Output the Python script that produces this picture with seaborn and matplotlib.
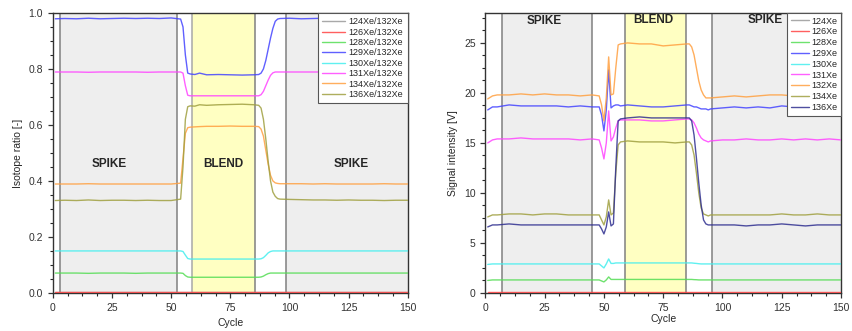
import numpy as np
import pandas as pd
import matplotlib
matplotlib.use("Agg")
import matplotlib.pyplot as plt
from matplotlib.ticker import MultipleLocator, AutoMinorLocator
import seaborn as sns

# ---------------- data: isotope ratios (left panel) ----------------
cycle_ratio = [1, 5, 10, 15, 20, 25, 30, 35, 40, 45, 50,
               54, 55, 56, 57, 58,
               60, 62, 65, 70, 75, 80, 85,
               87, 88, 89, 90, 91, 92, 93, 94, 95, 96,
               100, 105, 110, 115, 120, 125, 130, 135, 140, 145, 150]

r124 = [0.002] * 44
r126 = [0.004] * 44
r128 = [0.071, 0.071, 0.071, 0.070, 0.071, 0.071, 0.071, 0.070, 0.071, 0.071, 0.071,
        0.071, 0.070, 0.062, 0.057, 0.056,
        0.056, 0.056, 0.056, 0.056, 0.056, 0.056, 0.056,
        0.056, 0.057, 0.060, 0.065, 0.069, 0.071, 0.071, 0.071, 0.071, 0.071,
        0.071, 0.071, 0.071, 0.071, 0.071, 0.071, 0.071, 0.071, 0.071, 0.071, 0.071]
r129 = [0.979, 0.980, 0.979, 0.981, 0.979, 0.980, 0.981, 0.980, 0.981, 0.980, 0.982,
        0.978, 0.950, 0.850, 0.785, 0.782,
        0.780, 0.785, 0.779, 0.780, 0.779, 0.778, 0.779,
        0.780, 0.785, 0.800, 0.830, 0.870, 0.910, 0.945, 0.970, 0.978, 0.980,
        0.981, 0.979, 0.980, 0.981, 0.980, 0.979, 0.980, 0.981, 0.980, 0.979, 0.980]
r130 = [0.150, 0.150, 0.150, 0.150, 0.150, 0.150, 0.150, 0.150, 0.150, 0.150, 0.150,
        0.150, 0.148, 0.135, 0.123, 0.121,
        0.121, 0.121, 0.121, 0.121, 0.121, 0.121, 0.121,
        0.121, 0.122, 0.126, 0.134, 0.143, 0.148, 0.150, 0.150, 0.150, 0.150,
        0.150, 0.150, 0.150, 0.150, 0.150, 0.150, 0.150, 0.150, 0.150, 0.150, 0.150]
r131 = [0.789, 0.789, 0.789, 0.788, 0.789, 0.789, 0.789, 0.789, 0.788, 0.789, 0.789,
        0.789, 0.785, 0.740, 0.706, 0.704,
        0.704, 0.704, 0.704, 0.704, 0.704, 0.704, 0.704,
        0.704, 0.708, 0.720, 0.740, 0.760, 0.777, 0.786, 0.789, 0.789, 0.789,
        0.789, 0.789, 0.789, 0.789, 0.789, 0.789, 0.789, 0.789, 0.789, 0.789, 0.789]
r134 = [0.389, 0.389, 0.389, 0.390, 0.389, 0.389, 0.389, 0.389, 0.389, 0.389, 0.389,
        0.392, 0.480, 0.570, 0.590, 0.592,
        0.593, 0.594, 0.595, 0.595, 0.596, 0.595, 0.595,
        0.594, 0.585, 0.560, 0.510, 0.460, 0.420, 0.400, 0.393, 0.391, 0.390,
        0.390, 0.390, 0.389, 0.390, 0.389, 0.389, 0.389, 0.389, 0.390, 0.389, 0.389]
r136 = [0.330, 0.331, 0.330, 0.332, 0.330, 0.331, 0.331, 0.330, 0.331, 0.330, 0.330,
        0.335, 0.450, 0.620, 0.665, 0.668,
        0.667, 0.672, 0.670, 0.672, 0.673, 0.674, 0.672,
        0.670, 0.660, 0.620, 0.550, 0.470, 0.400, 0.360, 0.345, 0.337, 0.335,
        0.334, 0.333, 0.332, 0.332, 0.331, 0.332, 0.331, 0.331, 0.330, 0.331, 0.331]

# ---------------- data: signal intensities (right panel) ----------------
cycle_signal = [1, 3, 5, 10, 15, 20, 25, 30, 35, 40, 45,
                48, 49, 50, 51, 52, 53, 54, 55, 56, 57,
                60, 65, 70, 75, 80, 85,
                86, 87, 88, 89, 90, 91, 92, 93, 94, 95,
                100, 105, 110, 115, 120, 125, 130, 135, 140, 145, 150]

s124 = [0.03] * 48
s126 = [0.05] * 48
s128 = [1.25, 1.30, 1.30, 1.30, 1.30, 1.30, 1.30, 1.30, 1.30, 1.30, 1.30,
        1.30, 1.20, 1.10, 1.30, 1.60, 1.35, 1.35, 1.35, 1.35, 1.35,
        1.35, 1.35, 1.35, 1.35, 1.35, 1.35,
        1.35, 1.35, 1.33, 1.32, 1.30, 1.30, 1.30, 1.30, 1.30, 1.30,
        1.30, 1.30, 1.30, 1.30, 1.30, 1.30, 1.30, 1.30, 1.30, 1.30, 1.30]
s129 = [18.3, 18.6, 18.6, 18.8, 18.7, 18.7, 18.7, 18.7, 18.6, 18.7, 18.6,
        18.6, 17.8, 16.2, 18.3, 22.3, 18.5, 18.7, 18.8, 18.8, 18.7,
        18.8, 18.7, 18.6, 18.6, 18.7, 18.8,
        18.8, 18.7, 18.6, 18.6, 18.5, 18.4, 18.4, 18.4, 18.3, 18.4,
        18.5, 18.6, 18.5, 18.6, 18.5, 18.7, 18.6, 18.6, 18.6, 18.6, 18.6]
s130 = [2.85, 2.90, 2.90, 2.90, 2.90, 2.90, 2.90, 2.90, 2.90, 2.90, 2.90,
        2.90, 2.70, 2.50, 2.90, 3.40, 2.95, 2.95, 3.00, 3.00, 3.00,
        3.00, 3.00, 3.00, 3.00, 3.00, 3.00,
        3.00, 3.00, 2.97, 2.95, 2.92, 2.90, 2.90, 2.90, 2.90, 2.90,
        2.90, 2.90, 2.90, 2.90, 2.90, 2.90, 2.90, 2.90, 2.90, 2.90, 2.90]
s131 = [15.0, 15.3, 15.4, 15.4, 15.5, 15.4, 15.4, 15.4, 15.4, 15.3, 15.4,
        15.3, 14.5, 13.4, 15.0, 18.2, 15.2, 15.6, 16.5, 17.2, 17.3,
        17.3, 17.3, 17.2, 17.2, 17.3, 17.4,
        17.4, 17.3, 17.0, 16.5, 15.9, 15.5, 15.3, 15.2, 15.1, 15.2,
        15.3, 15.3, 15.4, 15.3, 15.3, 15.4, 15.3, 15.4, 15.3, 15.4, 15.3]
s132 = [19.4, 19.7, 19.8, 19.8, 19.9, 19.8, 19.9, 19.8, 19.8, 19.7, 19.8,
        19.7, 18.8, 17.2, 19.5, 23.6, 19.8, 19.9, 22.5, 24.8, 24.9,
        25.0, 24.9, 24.9, 24.7, 24.8, 24.9,
        24.9, 24.6, 23.8, 22.5, 21.2, 20.3, 19.8, 19.5, 19.5, 19.5,
        19.6, 19.7, 19.6, 19.7, 19.8, 19.8, 19.7, 19.7, 19.8, 19.7, 19.7]
s134 = [7.6, 7.8, 7.8, 7.9, 7.9, 7.8, 7.9, 7.9, 7.8, 7.8, 7.8,
        7.8, 7.3, 6.8, 7.6, 9.3, 7.8, 8.0, 12.0, 14.8, 15.1,
        15.2, 15.1, 15.1, 15.1, 15.0, 15.1,
        15.1, 14.8, 13.8, 12.0, 10.0, 8.5, 7.9, 7.8, 7.7, 7.8,
        7.8, 7.8, 7.8, 7.8, 7.8, 7.9, 7.8, 7.8, 7.9, 7.8, 7.8]
s136 = [6.6, 6.8, 6.8, 6.9, 6.8, 6.8, 6.8, 6.8, 6.8, 6.8, 6.8,
        6.8, 6.4, 5.9, 6.6, 8.1, 6.7, 6.9, 12.5, 17.2, 17.4,
        17.5, 17.6, 17.5, 17.5, 17.5, 17.5,
        17.5, 17.2, 15.8, 13.5, 11.0, 8.8, 7.3, 6.9, 6.8, 6.8,
        6.8, 6.8, 6.7, 6.8, 6.8, 6.9, 6.8, 6.7, 6.8, 6.8, 6.8]

ratio_labels = ["124Xe/132Xe", "126Xe/132Xe", "128Xe/132Xe", "129Xe/132Xe",
                "130Xe/132Xe", "131Xe/132Xe", "134Xe/132Xe", "136Xe/132Xe"]
ratio_series = [r124, r126, r128, r129, r130, r131, r134, r136]
ratio_colors = ["#9a9a9a", "#ff4444", "#55dd55", "#4444ff",
                "#44eeee", "#ff44ff", "#ffa040", "#a0a040"]

signal_labels = ["124Xe", "126Xe", "128Xe", "129Xe", "130Xe",
                 "131Xe", "132Xe", "134Xe", "136Xe"]
signal_series = [s124, s126, s128, s129, s130, s131, s132, s134, s136]
signal_colors = ["#9a9a9a", "#ff4444", "#55dd55", "#4444ff", "#44eeee",
                 "#ff44ff", "#ffa040", "#a0a040", "#303090"]

sns.set_style("ticks")
plt.rcParams['font.family'] = ['Liberation Sans', 'DejaVu Sans']

fig = plt.figure(figsize=(8.53, 3.31), dpi=100)
ax1 = fig.add_axes([0.062, 0.115, 0.416, 0.846])
ax2 = fig.add_axes([0.569, 0.115, 0.417, 0.846])

GRAY_BG = "#eeeeee"
YELLOW_BG = "#ffffc2"
VLINE = "#808080"

# ---- left panel ----
ax1.axvspan(3, 52.5, color=GRAY_BG, zorder=0, lw=0)
ax1.axvspan(59, 85.5, color=YELLOW_BG, zorder=0, lw=0)
ax1.axvspan(98.5, 150, color=GRAY_BG, zorder=0, lw=0)
for xv in [3, 52.5, 59, 85.5, 98.5]:
    ax1.axvline(xv, color=VLINE if xv != 59 else "#a8a8a8", lw=1.1, zorder=1)

for lab, vals, col in zip(ratio_labels, ratio_series, ratio_colors):
    sns.lineplot(x=cycle_ratio, y=vals, ax=ax1, color=col, lw=1.0,
                 alpha=0.85, label=lab, zorder=3)

ax1.text(24, 0.46, "SPIKE", ha="center", va="center", fontsize=8.5, fontweight="bold")
ax1.text(72, 0.46, "BLEND", ha="center", va="center", fontsize=8.5, fontweight="bold")
ax1.text(126, 0.46, "SPIKE", ha="center", va="center", fontsize=8.5, fontweight="bold")

ax1.set_xlim(0, 150)
ax1.set_ylim(0, 1.0)
ax1.xaxis.set_major_locator(MultipleLocator(25))
ax1.xaxis.set_minor_locator(AutoMinorLocator(4))
ax1.yaxis.set_major_locator(MultipleLocator(0.2))
ax1.yaxis.set_minor_locator(AutoMinorLocator(4))
ax1.yaxis.set_major_formatter(matplotlib.ticker.FormatStrFormatter("%.1f"))
ax1.set_xlabel("Cycle", fontsize=7.5)
ax1.set_ylabel("Isotope ratio [-]", fontsize=7.5)
leg1 = ax1.legend(loc="upper right", fontsize=6.5, frameon=True, fancybox=False,
                  borderaxespad=0, handlelength=2.5, labelspacing=0.15,
                  borderpad=0.5, handletextpad=0.4)

# ---- right panel ----
ax2.axvspan(7, 45, color=GRAY_BG, zorder=0, lw=0)
ax2.axvspan(59, 84.5, color=YELLOW_BG, zorder=0, lw=0)
ax2.axvspan(95.5, 150, color=GRAY_BG, zorder=0, lw=0)
for xv in [7, 45, 59, 84.5, 95.5]:
    ax2.axvline(xv, color=VLINE, lw=1.1, zorder=1)

for lab, vals, col in zip(signal_labels, signal_series, signal_colors):
    sns.lineplot(x=cycle_signal, y=vals, ax=ax2, color=col, lw=1.0,
                 alpha=0.85, label=lab, zorder=3)

ax2.text(25, 27.2, "SPIKE", ha="center", va="center", fontsize=8.5, fontweight="bold")
ax2.text(71, 27.3, "BLEND", ha="center", va="center", fontsize=8.5, fontweight="bold")
ax2.text(118, 27.3, "SPIKE", ha="center", va="center", fontsize=8.5, fontweight="bold")

ax2.set_xlim(0, 150)
ax2.set_ylim(0, 28)
ax2.xaxis.set_major_locator(MultipleLocator(25))
ax2.xaxis.set_minor_locator(AutoMinorLocator(4))
ax2.yaxis.set_major_locator(MultipleLocator(5))
ax2.yaxis.set_minor_locator(AutoMinorLocator(4))
ax2.set_xlabel("Cycle", fontsize=7.5, labelpad=1)
ax2.set_ylabel("Signal intensity [V]", fontsize=7.5)
leg2 = ax2.legend(loc="upper right", fontsize=6.5, frameon=True, fancybox=False,
                  borderaxespad=0, handlelength=2.0, labelspacing=0.2,
                  borderpad=0.4, handletextpad=0.3)

for ax, leg in [(ax1, leg1), (ax2, leg2)]:
    leg.get_frame().set_edgecolor("#555555")
    leg.get_frame().set_linewidth(0.8)
    leg.get_frame().set_alpha(1)
    leg.set_zorder(5)
    for spine in ax.spines.values():
        spine.set_visible(True)
        spine.set_linewidth(1.0)
        spine.set_color("#333333")
    ax.tick_params(axis="both", which="major", labelsize=7.5, length=3.5,
                   width=0.9, direction="out", colors="#333333")
    ax.tick_params(axis="both", which="minor", length=2, width=0.8, direction="out")
    ax.set_facecolor("white")

fig.savefig("out.png", dpi=100)
